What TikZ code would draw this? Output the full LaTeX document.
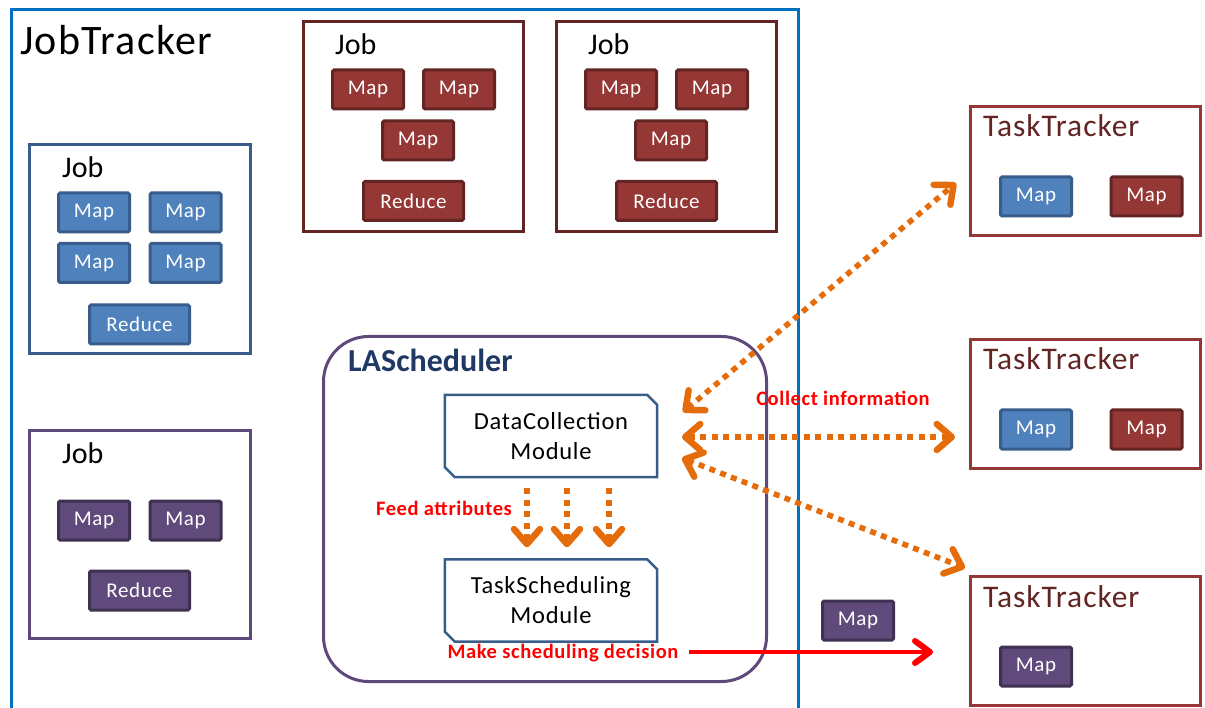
\documentclass[tikz,border=0pt]{standalone}
\usepackage{fontspec}
\setmainfont{Carlito}
\usetikzlibrary{arrows.meta,calc}

\definecolor{jtblue}{HTML}{0070C0}
\definecolor{bfill}{HTML}{4F81BD}
\definecolor{bline}{HTML}{385D8A}
\definecolor{rfill}{HTML}{953735}
\definecolor{rline}{HTML}{632523}
\definecolor{pfill}{HTML}{604A7B}
\definecolor{pline}{HTML}{3F3151}
\definecolor{pframe}{HTML}{5F497A}
\definecolor{navy}{HTML}{1F3864}
\definecolor{orng}{HTML}{E46C0A}
\definecolor{redtxt}{HTML}{FF0000}

% chamfered module outline: top-right and bottom-left corners cut
\newcommand\modframe[1]{%
  \draw[modline] (#1.north west) -- ([xshift=-10pt]#1.north east)
    -- ([yshift=-10pt]#1.north east) -- (#1.south east)
    -- ([xshift=10pt]#1.south west) -- ([yshift=10pt]#1.south west) -- cycle;}
% slightly opened letter spacing
\newcommand\spaced{\addfontfeature{LetterSpace=3}}

\begin{document}
\begin{tikzpicture}[x=1pt,y=-1pt,
  task/.style={draw, line width=3pt, minimum width=71pt, minimum height=39pt,
    inner sep=0pt, text=white, rounded corners=1.5pt,
    font=\fontsize{21}{21}\selectfont\spaced},
  bmap/.style={task, fill=bfill, draw=bline},
  rmap/.style={task, fill=rfill, draw=rline},
  pmap/.style={task, fill=pfill, draw=pline},
  wide/.style={minimum width=100pt},
  frame/.style={draw, line width=3pt, inner sep=0pt, fill=white},
  jobframe/.style={frame, minimum width=221pt, minimum height=209pt},
  ttframe/.style={frame, draw=rfill, minimum width=230pt, minimum height=129pt},
  joblabel/.style={anchor=base west, inner sep=0pt, font=\fontsize{30}{30}\selectfont},
  ttlabel/.style={anchor=base west, inner sep=0pt, text=rline,
    font=\fontsize{31.5}{31.5}\selectfont\spaced},
  module/.style={minimum width=212pt, minimum height=82pt, inner sep=0pt,
    align=center, font=\fontsize{24.5}{30}\selectfont\spaced},
  modline/.style={draw=bline, line width=2.5pt, line join=miter},
  redlabel/.style={text=redtxt, inner sep=0pt,
    font=\bfseries\fontsize{20.5}{20.5}\selectfont\spaced},
  oarrow/.style={draw=orng, line width=5.5pt, dash pattern=on 6pt off 5.5pt},
  otip/.tip={Straight Barb[length=15pt,width=26pt,line width=6.5pt,round]},
  rtip/.tip={Straight Barb[length=15pt,width=22pt,line width=6pt,round]}]

\useasboundingbox (0,0) rectangle (1205,708);

% JobTracker area (open at the bottom)
\draw[jtblue, line width=3pt] (11,708) -- (11,10) -- (798,10) -- (798,708);
\node[anchor=base west, inner sep=0pt, font=\fontsize{42}{42}\selectfont\spaced] (jt) at (20,55) {JobTracker};

% Job with blue tasks
\node[jobframe, draw=bline, minimum height=209pt] (jobb) at (140,249) {};
\node[joblabel] (jobbl) at (62,178) {Job};
\node[bmap] (b1) at (94,212.5) {Map};
\node[bmap] (b2) at (185.5,212.5) {Map};
\node[bmap] (b3) at (94,263) {Map};
\node[bmap] (b4) at (185.5,263) {Map};
\node[bmap, wide] (b5) at (139.5,324.5) {Reduce};

% Job with purple tasks
\node[jobframe, draw=pframe, minimum height=208pt] (jobp) at (140,534.5) {};
\node[joblabel] (jobpl) at (62,464) {Job};
\node[pmap] (p1) at (94,520.5) {Map};
\node[pmap] (p2) at (185.5,520.5) {Map};
\node[pmap, wide] (p3) at (139.5,590.5) {Reduce};

% Two jobs with red tasks
\node[jobframe, draw=rline, minimum width=220pt, minimum height=210pt] (jobr1) at (413.5,126.5) {};
\node[joblabel] (jobr1l) at (335,55) {Job};
\node[rmap] (r11) at (368,89.5) {Map};
\node[rmap] (r12) at (459,89.5) {Map};
\node[rmap] (r13) at (418,140.5) {Map};
\node[rmap, wide] (r14) at (413.5,201) {Reduce};

\node[jobframe, draw=rline, minimum width=220pt, minimum height=210pt] (jobr2) at (666.5,126.5) {};
\node[joblabel] (jobr2l) at (588,55) {Job};
\node[rmap] (r21) at (621,89.5) {Map};
\node[rmap] (r22) at (712,89.5) {Map};
\node[rmap] (r23) at (671,140.5) {Map};
\node[rmap, wide] (r24) at (666.5,201) {Reduce};

% LAScheduler and its two modules
\node[draw=pframe, line width=3pt, rounded corners=45pt, minimum width=443pt,
      minimum height=345pt, inner sep=0pt] (las) at (545,509) {};
\node[anchor=base west, inner sep=0pt, text=navy, font=\bfseries\fontsize{32}{32}\selectfont]
      (lasl) at (348,372) {LAScheduler};
\node[module] (dc) at (551,436) {DataCollection\\Module};
\modframe{dc}
\node[module] (ts) at (551,600.5) {TaskScheduling\\Module};
\modframe{ts}

% TaskTrackers
\node[ttframe] (tt1) at (1085.5,171) {};
\node[ttlabel] (tt1l) at (983,137) {TaskTracker};
\node[bmap] (t11) at (1036,196.5) {Map};
\node[rmap] (t12) at (1146.5,196.5) {Map};

\node[ttframe] (tt2) at (1085.5,404) {};
\node[ttlabel] (tt2l) at (983,370) {TaskTracker};
\node[bmap] (t21) at (1036,429.5) {Map};
\node[rmap] (t22) at (1146.5,429.5) {Map};

\node[ttframe] (tt3) at (1085.5,640.5) {};
\node[ttlabel] (tt3l) at (983,607) {TaskTracker};
\node[pmap] (t31) at (1036,666.5) {Map};

% task being dispatched
\node[pmap] (fm) at (858,620.5) {Map};

% information exchange between DataCollection and the TaskTrackers
\coordinate (c1) at (683,412);
\coordinate (c2) at (682,437);
\coordinate (c3) at (682,458);
\coordinate (e1) at (956,183);
\coordinate (e2) at (955,437);
\coordinate (e3) at (965,568);
\draw[oarrow, otip-otip] (c1) -- (e1);
\draw[oarrow, otip-otip] (c2) -- (e2);
\draw[oarrow, otip-otip] (c3) -- (e3);
\node[redlabel] (ci) at (843,398) {Collect information};

% attributes fed to TaskScheduling
\draw[oarrow, -otip] ($(dc.south)+(-24,11)$) -- ($(ts.north)+(-24,-12)$);
\draw[oarrow, -otip] ($(dc.south)+(16,11)$) -- ($(ts.north)+(16,-12)$);
\draw[oarrow, -otip] ($(dc.south)+(58,11)$) -- ($(ts.north)+(58,-12)$);
\node[redlabel] (fa) at (444,508) {Feed attributes};

% scheduling decision sent to a TaskTracker
\node[redlabel] (mk) at (563,653) {Make scheduling decision};
\coordinate (dst) at (933,652);
\draw[draw=redtxt, line width=4.5pt, -rtip] ([xshift=10pt]mk.east |- dst) -- (dst);

\end{tikzpicture}
\end{document}
